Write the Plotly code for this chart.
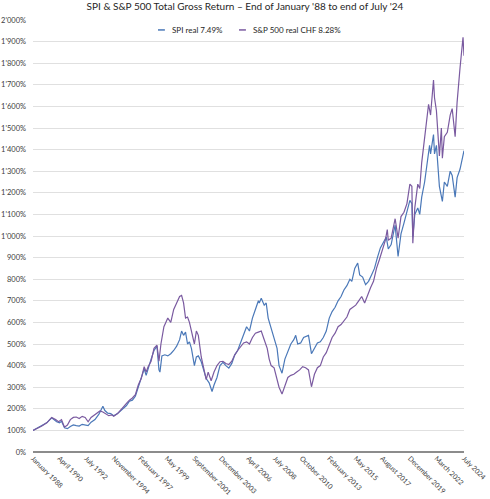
import plotly.graph_objects as go

# ---- data ----
spi_dates = ["1988-01","1988-06","1988-10","1989-03","1989-08","1989-10","1990-01","1990-04","1990-06","1990-09",
 "1990-12","1991-03","1991-06","1991-09","1991-12","1992-03","1992-06","1992-09","1992-12","1993-04",
 "1993-08","1993-12","1994-02","1994-05","1994-08","1994-11","1995-03","1995-06","1995-09","1995-12",
 "1996-03","1996-06","1996-09","1996-12","1997-03","1997-06","1997-08","1997-10","1998-01","1998-04",
 "1998-07","1998-09","1998-10","1998-12","1999-03","1999-06","1999-09","1999-12","2000-03","2000-06",
 "2000-08","2000-10","2000-12","2001-02","2001-04","2001-06","2001-09","2001-11","2002-01","2002-04",
 "2002-07","2002-09","2002-12","2003-03","2003-05","2003-08","2003-11","2004-02","2004-05","2004-08",
 "2004-11","2005-02","2005-05","2005-08","2005-11","2006-02","2006-05","2006-08","2006-11","2007-02",
 "2007-03","2007-05","2007-08","2007-10","2007-12","2008-03","2008-06","2008-09","2008-11","2009-02",
 "2009-05","2009-08","2009-11","2010-02","2010-04","2010-06","2010-09","2010-12","2011-03","2011-05",
 "2011-08","2011-11","2012-02","2012-05","2012-08","2012-11","2013-02","2013-05","2013-08","2013-11",
 "2014-02","2014-05","2014-08","2014-11","2015-01","2015-04","2015-07","2015-09","2015-12","2016-03",
 "2016-06","2016-09","2016-12","2017-03","2017-06","2017-09","2017-12","2018-02","2018-05","2018-08",
 "2018-09","2018-12","2019-03","2019-06","2019-09","2019-12","2020-02","2020-03","2020-05","2020-08",
 "2020-10","2020-12","2021-03","2021-06","2021-08","2021-09","2021-12","2022-01","2022-03","2022-06",
 "2022-09","2022-11","2023-02","2023-05","2023-07","2023-10","2023-12","2024-03","2024-05","2024-07"]
spi_values = [100,112,122,135,158,150,140,135,142,112,
 108,118,125,122,120,128,126,122,138,150,
 175,212,192,180,178,168,178,190,200,215,
 235,240,258,300,350,385,355,390,430,470,
 490,380,370,445,450,445,455,470,490,520,
 560,540,555,500,510,480,400,440,445,418,
 370,340,320,280,310,345,400,415,400,388,
 410,450,470,510,550,580,560,620,660,700,
 690,712,680,690,620,570,520,480,400,365,
 430,470,500,520,540,500,505,530,535,540,
 455,480,505,510,530,560,620,650,670,700,
 720,750,770,800,790,850,875,820,810,775,
 790,820,850,900,945,970,995,940,960,1030,
 1050,905,1010,1060,1110,1165,1150,995,1100,1130,
 1100,1180,1250,1340,1420,1380,1470,1380,1420,1230,
 1160,1250,1230,1300,1280,1180,1270,1310,1350,1395]

sp_dates = ["1988-01","1988-06","1988-10","1989-03","1989-08","1989-12","1990-03","1990-06","1990-09","1990-12",
 "1991-03","1991-06","1991-09","1991-12","1992-03","1992-06","1992-09","1992-12","1993-03","1993-06",
 "1993-09","1993-12","1994-03","1994-06","1994-09","1994-11","1995-03","1995-06","1995-09","1995-12",
 "1996-03","1996-06","1996-09","1996-12","1997-03","1997-06","1997-08","1997-10","1998-01","1998-04",
 "1998-07","1998-09","1998-11","1999-02","1999-04","1999-06","1999-09","1999-12","2000-03","2000-06",
 "2000-08","2000-10","2000-12","2001-02","2001-04","2001-06","2001-09","2001-11","2002-01","2002-04",
 "2002-07","2002-09","2002-11","2003-02","2003-05","2003-08","2003-11","2004-02","2004-05","2004-08",
 "2004-11","2005-02","2005-05","2005-08","2005-11","2006-02","2006-05","2006-08","2006-11","2007-02",
 "2007-05","2007-08","2007-11","2008-01","2008-03","2008-06","2008-09","2008-11","2009-02","2009-05",
 "2009-08","2009-11","2010-02","2010-05","2010-08","2010-11","2011-02","2011-05","2011-08","2011-11",
 "2012-02","2012-05","2012-08","2012-11","2013-02","2013-05","2013-08","2013-11","2014-02","2014-05",
 "2014-08","2014-11","2015-02","2015-05","2015-08","2015-11","2016-02","2016-05","2016-08","2016-11",
 "2017-02","2017-05","2017-08","2017-11","2018-01","2018-02","2018-05","2018-08","2018-09","2018-12",
 "2019-03","2019-06","2019-09","2019-12","2020-02","2020-03","2020-05","2020-08","2020-10","2020-12",
 "2021-03","2021-05","2021-07","2021-09","2021-11","2021-12","2022-01","2022-03","2022-04","2022-06",
 "2022-08","2022-09","2022-11","2023-02","2023-05","2023-07","2023-10","2023-12","2024-03","2024-05",
 "2024-06","2024-07"]
sp_values = [100,110,120,135,160,150,140,150,115,125,
 150,160,162,155,165,160,140,160,170,180,
 190,185,175,168,172,165,178,195,210,225,
 240,250,265,310,340,395,370,395,420,480,
 495,420,500,580,600,620,600,660,690,720,
 725,690,620,625,600,560,500,560,540,440,
 380,335,370,330,370,400,418,420,410,405,
 420,450,470,490,505,510,500,530,550,555,
 560,520,480,430,400,390,340,300,268,310,
 345,355,360,370,380,395,390,380,302,360,
 390,400,440,460,500,530,550,580,590,610,
 625,660,670,680,700,720,690,730,760,790,
 850,890,930,980,1030,980,990,1060,1080,990,
 1090,1110,1150,1240,1230,966,1130,1240,1220,1340,
 1450,1550,1610,1560,1700,1722,1640,1580,1510,1370,
 1500,1360,1460,1480,1560,1590,1460,1620,1780,1880,
 1920,1835]

series_names = ["SPI real 7.49%", "S&P 500 real CHF 8.28%"]
series_colors = ["#4a78b8", "#7a5aa0"]

tick_dates = ["1988-01-01","1990-04-01","1992-07-01","1994-11-01","1997-02-01","1999-05-01","2001-09-01",
 "2003-12-01","2006-04-01","2008-07-01","2010-10-01","2013-02-01","2015-05-01","2017-08-01",
 "2019-12-01","2022-03-01","2024-07-01"]
tick_labels = ["January 1988","April 1990","July 1992","November 1994","February 1997","May 1999",
 "September 2001","December 2003","April 2006","July 2008","October 2010","February 2013",
 "May 2015","August 2017","December 2019","March 2022","July 2024"]

y_vals = list(range(0, 2001, 100))
y_labels = [("%d'%03d%%" % (v // 1000, v % 1000)) if v >= 1000 else f"{v}%" for v in y_vals]

fig = go.Figure()
for d, v, n, c in [(spi_dates, spi_values, series_names[0], series_colors[0]),
                   (sp_dates, sp_values, series_names[1], series_colors[1])]:
    fig.add_trace(go.Scatter(x=[s + "-01" for s in d], y=v, mode="lines", name=n,
                             line=dict(color=c, width=1.2), showlegend=False))

# manual legend (short line keys as in the reference)
legend_y = 0.977
legend_keys = [(0.290, 0.306, 0.318), (0.478, 0.494, 0.506)]
for (x0, x1, xt), n, c in zip(legend_keys, series_names, series_colors):
    fig.add_shape(type="line", xref="paper", yref="paper", x0=x0, x1=x1, y0=legend_y, y1=legend_y,
                  line=dict(color=c, width=1.5))
    fig.add_annotation(xref="paper", yref="paper", x=xt, y=legend_y, xanchor="left", yanchor="middle",
                       text=n, showarrow=False, font=dict(size=8, color="#262626"))

fig.update_layout(
    width=490, height=499,
    paper_bgcolor="white", plot_bgcolor="white",
    margin=dict(l=33, r=26, t=20, b=47, autoexpand=False),
    font=dict(family="Lato, sans-serif", color="#404040"),
    title=dict(text="SPI & S&P 500 Total Gross Return – End of January '88 to end of July '24",
               x=0.5, xanchor="center", y=0.988, yanchor="middle", yref="container",
               font=dict(size=10, color="#262626")),
    showlegend=False,
)
fig.update_xaxes(type="date", range=["1988-01-01", "2024-07-01"], automargin=False,
                 tickmode="array", tickvals=tick_dates, ticktext=tick_labels,
                 tickangle=45, tickfont=dict(size=7, color="#404040"),
                 showgrid=False, showline=False, zeroline=False, ticks="")
fig.update_yaxes(range=[0, 2000], automargin=False, tickmode="array", tickvals=y_vals, ticktext=y_labels,
                 tickfont=dict(size=7.5, color="#404040"), showgrid=True, gridcolor="#e0e0e0",
                 gridwidth=1, zeroline=True, zerolinecolor="#8c8c8c", zerolinewidth=1.5,
                 showline=False, ticks="", ticklabelstandoff=6)

fig.write_html("out.html", config={"displayModeBar": False},
               post_script="document.body.style.margin='0';")
